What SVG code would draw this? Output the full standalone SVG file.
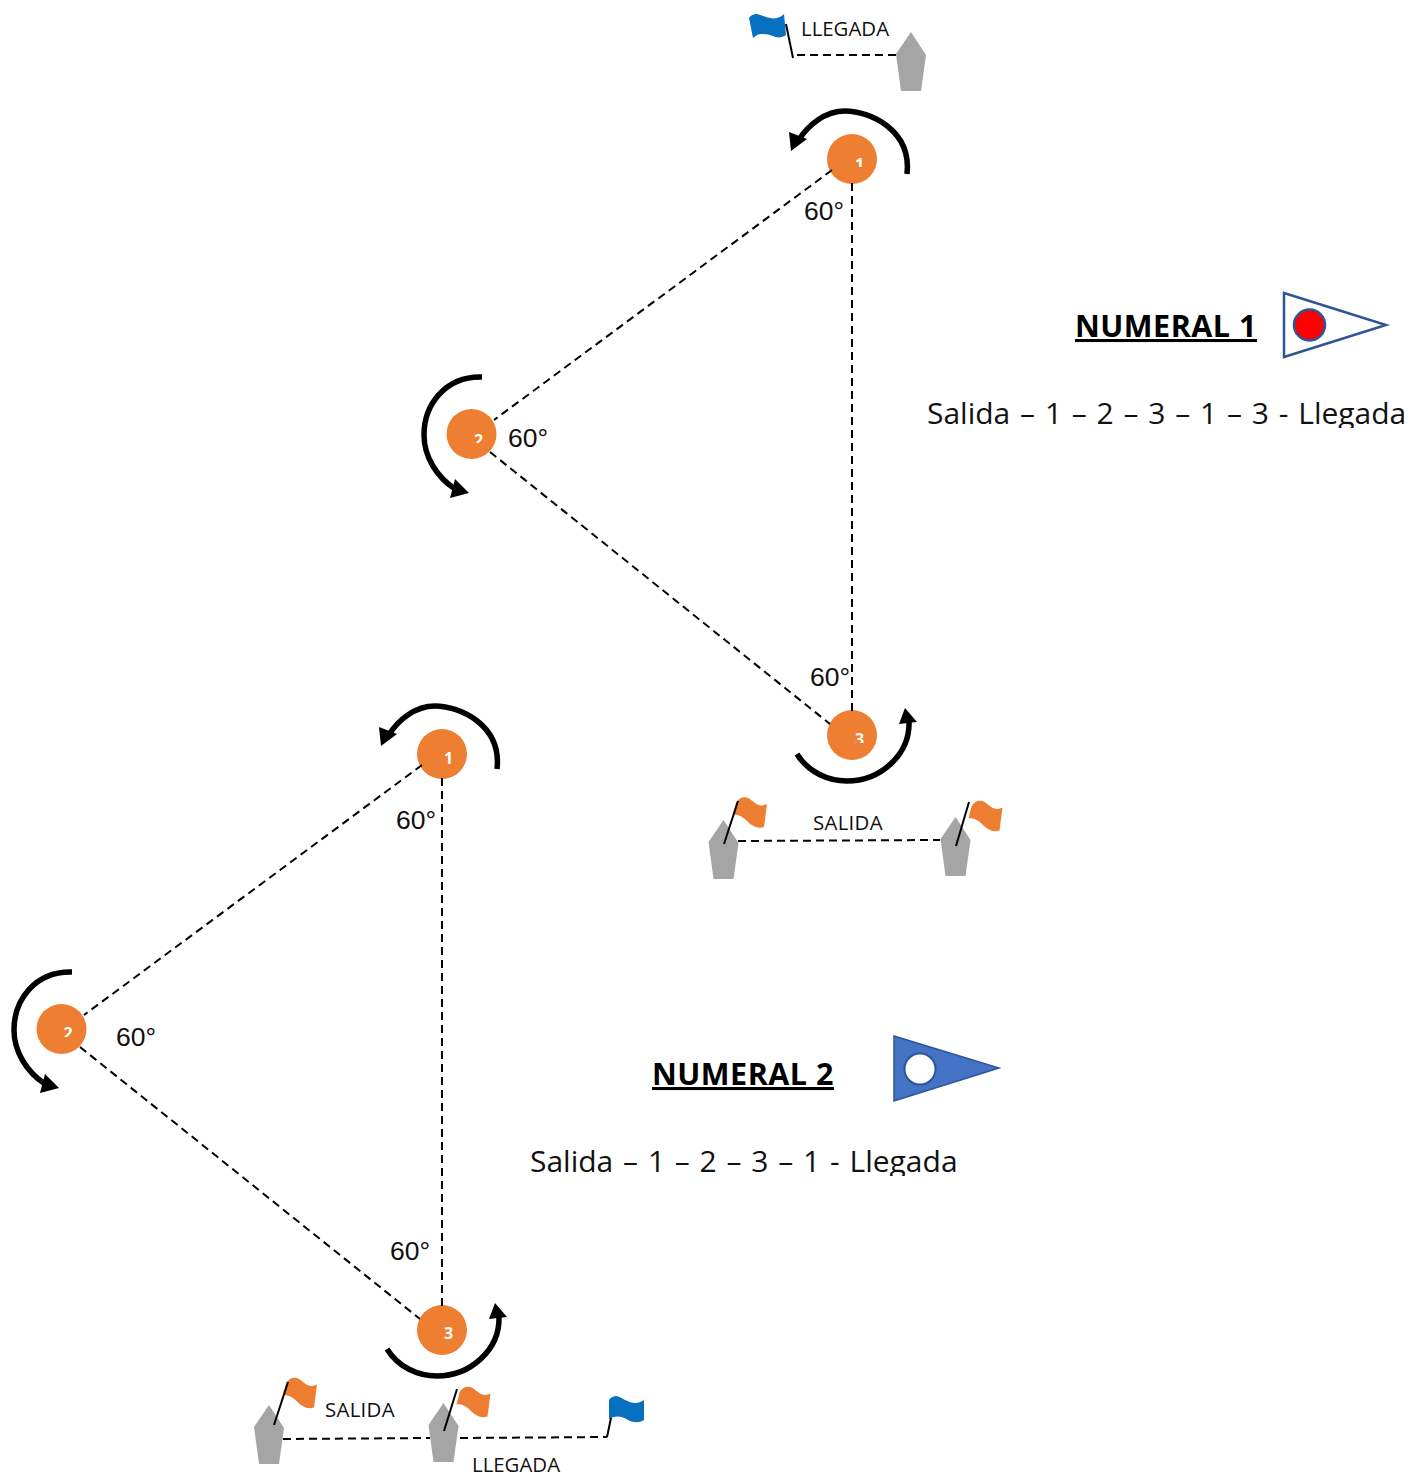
<svg xmlns="http://www.w3.org/2000/svg" xmlns:xlink="http://www.w3.org/1999/xlink" width="1408" height="1475" viewBox="0 0 1408 1475">
<style>
.dash{fill:none;stroke:#000;stroke-width:2;stroke-dasharray:8 5}
.pole{fill:none;stroke:#000;stroke-width:2}
.arc{fill:none;stroke:#000;stroke-width:5.500}
.mark{fill:#EE7F32}
.buoy{fill:#A5A5A5}
.or{fill:#ED7D31}
.bl{fill:#0870C0}
.deg{font:26.500px "Liberation Sans",Arial,sans-serif;fill:#111}
.lab{font:20.400px "Open Sans",sans-serif;fill:#111}
.sal{letter-spacing:.3px}
.big{font:30px "Open Sans",sans-serif;fill:#111;word-spacing:2px}
.hd{font:bold 30.500px "Open Sans",sans-serif;fill:#000;letter-spacing:.5px}
.dig{font:bold 16px "Open Sans",sans-serif;fill:#fff}
</style>
<defs>
<polygon id="buoy" class="buoy" points="0,0 15,23 10,59 -10,59 -15,22"/>
<path id="oflag" class="or" d="M3,6C6,0 12,-1 17,2C22,6 26,11 34,7L31,30C24,32 19,29 14,24C10,20 5,17 0,18Z"/>
<clipPath id="c1"><rect x="850" y="150" width="20" height="17"/></clipPath>
<clipPath id="c2"><rect x="470" y="425" width="20" height="18"/></clipPath>
<clipPath id="c3"><rect x="850" y="725" width="20" height="18"/></clipPath>
<clipPath id="c5"><rect x="60" y="1020" width="20" height="17"/></clipPath>
<clipPath id="t1"><rect x="920" y="390" width="488" height="38"/></clipPath>
<clipPath id="t2"><rect x="520" y="1138" width="488" height="38"/></clipPath>
</defs>
<g id="mark-1a"><circle class="mark" cx="852" cy="159" r="25"/><text class="dig" x="855" y="169.500" clip-path="url(#c1)">1</text></g>
<g id="mark-2a"><circle class="mark" cx="471.500" cy="434" r="25"/><text class="dig" x="474" y="446" clip-path="url(#c2)">2</text></g>
<g id="mark-3a"><circle class="mark" cx="852" cy="735" r="25"/><text class="dig" x="855" y="745" clip-path="url(#c3)">3</text></g>
<g id="mark-1b"><circle class="mark" cx="442" cy="754" r="25"/><text class="dig" x="444" y="763.500">1</text></g>
<g id="mark-2b"><circle class="mark" cx="61.500" cy="1029" r="25"/><text class="dig" x="63.500" y="1039" clip-path="url(#c5)">2</text></g>
<g id="mark-3b"><circle class="mark" cx="442" cy="1330" r="25"/><text class="dig" x="444" y="1339">3</text></g>
<g id="connectors">
<path class="dash" d="M832,170L494,420M852,183V716M490,452L830,724"/>
<path class="dash" d="M422,765L84,1015M442,778V1311M80,1047L420,1319"/>
<path class="dash" d="M797,55H903M738,841L940,840M283,1439L430,1438M460,1438L607,1437"/>
<path class="arc" d="M907,174C912,130 870,111 845,111C825,111 808,125 798,141"/>
<polygon points="791,151 789,132 807,139"/>
<path class="arc" d="M482,377C445,376 424,405 424,435C424,457 437,477 455,489"/>
<polygon points="469,493 455,479 450,498"/>
<path class="arc" d="M797,754C808,772 828,781 847,781C880,781 910,755 909,722"/>
<polygon points="905,708 917,722 899,724"/>
<path class="arc" d="M497,769C502,725 460,706 435,706C415,706 398,720 388,736"/>
<polygon points="381,746 379,727 397,734"/>
<path class="arc" d="M72,972C35,971 14,1000 14,1030C14,1052 27,1072 45,1084"/>
<polygon points="59,1088 45,1074 40,1093"/>
<path class="arc" d="M387,1349C398,1367 418,1376 437,1376C470,1376 500,1350 499,1317"/>
<polygon points="495,1303 507,1317 489,1319"/>
</g>
<g id="finish-top">
<use href="#buoy" x="911" y="32"/>
<path class="bl" d="M749,18C751,15 754,14 756,14C761,14 769,20 777,18C780,17 782,16 784,14L786,35C782,38 777,38 773,36C768,34 761,33 757,35L753,38Z"/>
<line class="pole" x1="786" y1="24" x2="793" y2="58"/>
<text class="lab" x="801" y="36">LLEGADA</text>
</g>
<g id="start-top">
<use href="#buoy" x="723.500" y="820"/>
<use href="#oflag" x="733" y="797"/>
<line class="pole" x1="724" y1="844" x2="738" y2="801"/>
<use href="#buoy" x="955.500" y="817"/>
<use href="#oflag" x="968.500" y="800.500"/>
<line class="pole" x1="956" y1="846" x2="969" y2="802"/>
<text class="lab sal" x="813" y="830">SALIDA</text>
</g>
<g id="start-bottom">
<use href="#buoy" x="269" y="1405"/>
<use href="#oflag" x="283" y="1377.500"/>
<line class="pole" x1="274" y1="1425" x2="288" y2="1382"/>
<use href="#buoy" x="443.500" y="1403"/>
<use href="#oflag" x="456.500" y="1386.500"/>
<line class="pole" x1="444" y1="1431" x2="457" y2="1389"/>
<text class="lab sal" x="325" y="1417">SALIDA</text>
</g>
<g id="finish-bottom">
<path class="bl" d="M609,1400C611,1397 614,1396 616,1396C622,1397 628,1403 635,1403C639,1403 642,1401 644,1400L644,1420C639,1423 634,1423 628,1420C622,1416 616,1415 609,1419Z"/>
<line class="pole" x1="607" y1="1437" x2="611" y2="1418"/>
<text class="lab" x="472" y="1472">LLEGADA</text>
</g>
<g id="angles">
<text class="deg" x="804" y="220">60°</text>
<text class="deg" x="508" y="447">60°</text>
<text class="deg" x="810" y="686">60°</text>
<text class="deg" x="396" y="829">60°</text>
<text class="deg" x="116" y="1046">60°</text>
<text class="deg" x="390" y="1260">60°</text>
</g>
<g id="numeral-1">
<text class="hd" x="1075" y="337" text-decoration="underline">NUMERAL 1</text>
<polygon points="1284,293 1386,325 1284,357" fill="#fff" stroke="#2F5597" stroke-width="2.500"/>
<circle cx="1309.500" cy="325" r="15.500" fill="#FF0000" stroke="#2F5597" stroke-width="2.500"/>
<text class="big" x="927" y="424" clip-path="url(#t1)">Salida – 1 – 2 – 3 – 1 – 3 - Llegada</text>
</g>
<g id="numeral-2">
<text class="hd" x="652" y="1085" text-decoration="underline">NUMERAL 2</text>
<polygon points="894,1036 999,1068 894,1101" fill="#4472C4" stroke="#2F5597" stroke-width="1.500"/>
<circle cx="920" cy="1069" r="15.500" fill="#fff" stroke="#2F5597" stroke-width="2"/>
<text class="big" x="530" y="1172" clip-path="url(#t2)">Salida – 1 – 2 – 3 – 1 - Llegada</text>
</g>
</svg>
